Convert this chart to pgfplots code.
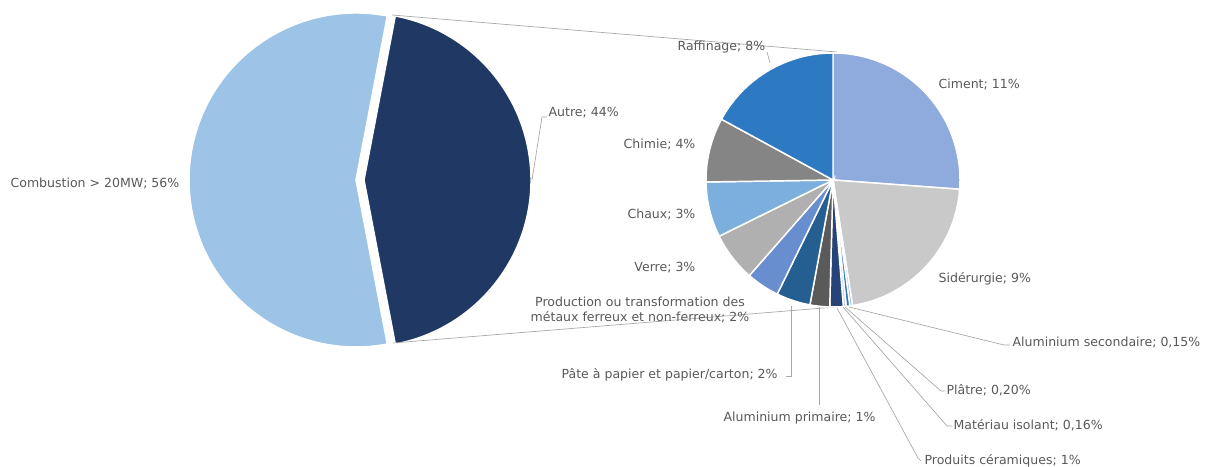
\documentclass[border=0pt]{standalone}
\usepackage{pgfplots}
\pgfplotsset{compat=1.18}
\usepackage{fontspec}
\setmainfont{DejaVu Sans}
\definecolor{combust}{HTML}{9DC3E6}
\definecolor{autre}{HTML}{203864}
\definecolor{ciment}{HTML}{8FAADC}
\definecolor{sider}{HTML}{C9C9C9}
\definecolor{alusec}{HTML}{9DC3E6}
\definecolor{platre}{HTML}{2E75B6}
\definecolor{isol}{HTML}{BDD7EE}
\definecolor{ceram}{HTML}{264478}
\definecolor{aluprim}{HTML}{5A5A5A}
\definecolor{pate}{HTML}{255E91}
\definecolor{metaux}{HTML}{698ED0}
\definecolor{verre}{HTML}{B0B0B0}
\definecolor{chaux}{HTML}{7CAFDD}
\definecolor{chimie}{HTML}{858585}
\definecolor{raff}{HTML}{2E7AC2}
\definecolor{txt}{HTML}{595959}
\definecolor{lead}{HTML}{A6A6A6}
\tikzset{lbl/.style={font=\fontsize{9.4}{11.2}\selectfont, text=txt, inner sep=1pt}}
% slice: cx, cy, r, start (cumulated value), value, total, colour ; clockwise from 12 o'clock
\newcommand{\pieslice}[7]{%
  \filldraw[fill=#7, draw=white, line width=1.1pt]
    (axis cs:#1,#2) -- ({#1+#3*cos(90-#4/#6*360)},{#2+#3*sin(90-#4/#6*360)})
    arc[start angle={90-#4/#6*360}, end angle={90-(#4+#5)/#6*360}, radius={#3*0.75pt}] -- cycle;}
% slice for big pie: cx, cy, r, start angle, end angle, colour
\newcommand{\bigslice}[6]{%
  \filldraw[fill=#6, draw=white, line width=1.1pt]
    (axis cs:#1,#2) -- ({#1+#3*cos(#4)},{#2+#3*sin(#4)})
    arc[start angle=#4, end angle=#5, radius={#3*0.75pt}] -- cycle;}
\begin{document}
\begin{tikzpicture}
\begin{axis}[x=0.75pt, y=0.75pt, xmin=0, xmax=1208, ymin=0, ymax=467,
  hide axis, clip=false, disabledatascaling]
\coordinate (SW) at (axis cs:0,0);
\coordinate (NE) at (axis cs:1208,467);
% big pie: Combustion 56 %, Autre 44 % (exploded)
\bigslice{356}{287}{167}{79.2}{280.8}{combust}
\bigslice{364}{287}{167}{-79.2}{79.2}{autre}
% connector lines
\draw[lead, line width=0.5pt] (axis cs:392,452) -- (axis cs:837,415);
\draw[lead, line width=0.5pt] (axis cs:393,124) -- (axis cs:836,160);
% small pie (total 43.96)
\pieslice{833}{287}{127}{0}{11.5}{43.96}{ciment}
\pieslice{833}{287}{127}{11.5}{9.4}{43.96}{sider}
\pieslice{833}{287}{127}{20.9}{0.15}{43.96}{alusec}
\pieslice{833}{287}{127}{21.05}{0.20}{43.96}{platre}
\pieslice{833}{287}{127}{21.25}{0.16}{43.96}{isol}
\pieslice{833}{287}{127}{21.41}{0.75}{43.96}{ceram}
\pieslice{833}{287}{127}{22.16}{1.1}{43.96}{aluprim}
\pieslice{833}{287}{127}{23.26}{1.9}{43.96}{pate}
\pieslice{833}{287}{127}{25.16}{1.85}{43.96}{metaux}
\pieslice{833}{287}{127}{27.01}{2.75}{43.96}{verre}
\pieslice{833}{287}{127}{29.76}{3.1}{43.96}{chaux}
\pieslice{833}{287}{127}{32.86}{3.6}{43.96}{chimie}
\pieslice{833}{287}{127}{36.46}{7.5}{43.96}{raff}
% leader lines
\draw[lead, line width=0.5pt] (axis cs:532,287) -- (axis cs:542,350) -- (axis cs:547,350);
\draw[lead, line width=0.5pt] (axis cs:767,415) -- (axis cs:770,404);
\draw[lead, line width=0.5pt] (axis cs:786,91) -- (axis cs:791,91) -- (axis cs:791,161);
\draw[lead, line width=0.5pt] (axis cs:819,62) -- (axis cs:819,160);
\draw[lead, line width=0.5pt] (axis cs:921,6) -- (axis cs:918,9) -- (axis cs:837,159);
\draw[lead, line width=0.5pt] (axis cs:952,41) -- (axis cs:947,41) -- (axis cs:843,160);
\draw[lead, line width=0.5pt] (axis cs:945,76) -- (axis cs:941,76) -- (axis cs:845,160);
\draw[lead, line width=0.5pt] (axis cs:1010,122) -- (axis cs:1004,122) -- (axis cs:849,160);
% labels
\node[lbl, anchor=west] at (axis cs:9,284) {Combustion > 20MW; 56\%};
\node[lbl, anchor=west] at (axis cs:547,354) {Autre; 44\%};
\node[lbl, anchor=west] at (axis cs:676,420) {Raffinage; 8\%};
\node[lbl, anchor=west] at (axis cs:937,383) {Ciment; 11\%};
\node[lbl, anchor=east] at (axis cs:697,323) {Chimie; 4\%};
\node[lbl, anchor=east] at (axis cs:697,253) {Chaux; 3\%};
\node[lbl, anchor=east] at (axis cs:697,199) {Verre; 3\%};
\node[lbl, align=center] at (axis cs:640,157) {Production ou transformation des\\métaux ferreux et non-ferreux; 2\%};
\node[lbl, anchor=west] at (axis cs:560,92) {Pâte à papier et papier/carton; 2\%};
\node[lbl, anchor=west] at (axis cs:722,49) {Aluminium primaire; 1\%};
\node[lbl, anchor=west] at (axis cs:923,6) {Produits céramiques; 1\%};
\node[lbl, anchor=west] at (axis cs:952,42) {Matériau isolant; 0,16\%};
\node[lbl, anchor=west] at (axis cs:945,77) {Plâtre; 0,20\%};
\node[lbl, anchor=west] at (axis cs:1011,125) {Aluminium secondaire; 0,15\%};
\node[lbl, anchor=west] at (axis cs:937,188) {Sidérurgie; 9\%};
\end{axis}
\pgfresetboundingbox
\path[use as bounding box] (SW) rectangle (NE);
\end{tikzpicture}
\end{document}
